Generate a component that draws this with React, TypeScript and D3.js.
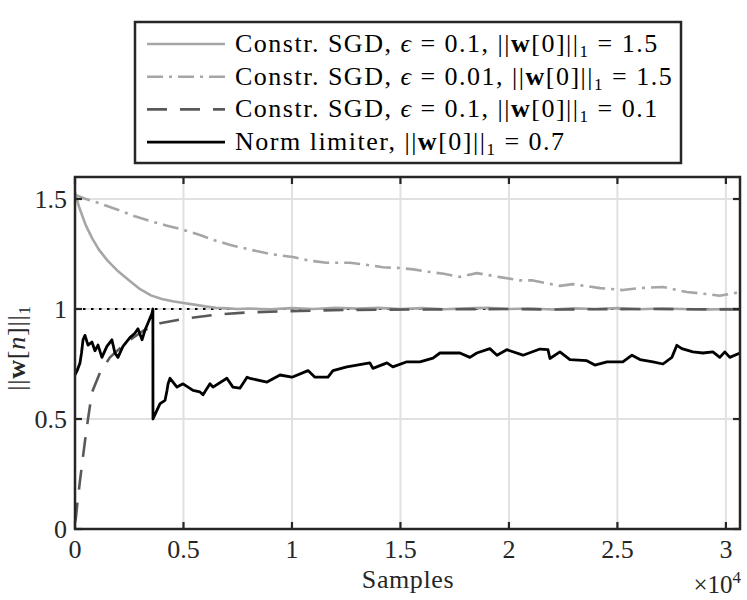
import * as React from "react";
import * as d3 from "d3";
import { useEffect, useRef } from "react";

// readings from the reference (samples, ||w[n]||_1)
const sgdFastX = [0, 200, 500, 800, 1100, 1500, 2000, 2500, 3000, 3500, 4000, 4500, 5000, 5500, 6000, 6500, 7000, 7500, 8000, 9000, 10000, 11000, 12000, 13000, 14000, 15000, 16000, 17000, 18000, 19000, 20000, 21000, 22000, 23000, 24000, 25000, 26000, 27000, 28000, 29000, 30000, 30650];
const sgdFastY = [1.53, 1.46, 1.38, 1.32, 1.27, 1.22, 1.17, 1.13, 1.09, 1.062, 1.045, 1.035, 1.027, 1.02, 1.012, 1.006, 1.003, 1.0, 1.002, 0.999, 1.004, 1.0, 1.006, 1.002, 1.005, 1.0, 1.004, 0.999, 1.003, 1.006, 1.0, 1.002, 0.998, 1.003, 1.0, 1.004, 0.999, 1.002, 1.0, 0.997, 1.0, 1.0];

const sgdSlowX = [0, 500, 1150, 2000, 2800, 3456, 4200, 4977, 5760, 6500, 7200, 8065, 9000, 10050, 10800, 11600, 12670, 13500, 14200, 14980, 15600, 16220, 17000, 17740, 18520, 19590, 20500, 21100, 22350, 22950, 24200, 25250, 26040, 27100, 28200, 29120, 29720, 30650];
const sgdSlowY = [1.52, 1.5, 1.48, 1.45, 1.42, 1.4, 1.38, 1.36, 1.336, 1.31, 1.29, 1.27, 1.25, 1.236, 1.22, 1.21, 1.21, 1.2, 1.19, 1.186, 1.18, 1.17, 1.16, 1.146, 1.163, 1.145, 1.13, 1.13, 1.105, 1.113, 1.095, 1.086, 1.095, 1.1, 1.077, 1.068, 1.06, 1.077];

const sgdLowX = [0, 40, 90, 230, 460, 600, 780, 1150, 1610, 2400, 3130, 3920, 4980, 6540, 8065, 9900, 11900, 14000, 16000, 18000, 20000, 22000, 24000, 26000, 28000, 30650];
const sgdLowY = [0.03, 0.05, 0.1, 0.22, 0.4, 0.5, 0.62, 0.71, 0.78, 0.85, 0.9, 0.935, 0.955, 0.975, 0.985, 0.99, 0.995, 0.997, 0.998, 0.999, 1.0, 0.998, 0.999, 1.0, 0.999, 0.998];

const limiterX = [0, 100, 230, 300, 370, 460, 600, 780, 920, 1060, 1240, 1470, 1700, 1840, 1980, 2210, 2530, 2760, 2900, 3090, 3230, 3360, 3550, 3590, 3594, 3780, 3920, 4150, 4240, 4290, 4380, 4700, 4980, 5440, 5760, 5900, 6220, 6360, 7000, 7280, 7600, 7930, 8060, 8850, 9450, 10000, 10740, 11060, 11660, 11890, 12530, 13590, 13730, 14380, 14650, 15300, 15900, 16500, 16820, 17740, 18200, 18520, 19120, 19450, 19900, 20650, 21430, 21800, 21890, 22350, 22810, 23590, 23960, 24520, 25250, 25670, 26040, 26640, 27100, 27510, 27740, 27970, 28480, 28940, 29400, 29720, 29950, 30180, 30650];
const limiterY = [0.7, 0.72, 0.755, 0.8, 0.86, 0.88, 0.836, 0.85, 0.81, 0.836, 0.78, 0.83, 0.86, 0.8, 0.78, 0.83, 0.87, 0.89, 0.91, 0.86, 0.905, 0.935, 0.98, 1.0, 0.5, 0.54, 0.57, 0.585, 0.63, 0.66, 0.685, 0.645, 0.66, 0.63, 0.623, 0.61, 0.66, 0.645, 0.685, 0.645, 0.64, 0.69, 0.685, 0.668, 0.7, 0.69, 0.72, 0.69, 0.69, 0.72, 0.737, 0.755, 0.73, 0.755, 0.737, 0.76, 0.76, 0.777, 0.8, 0.8, 0.78, 0.8, 0.82, 0.79, 0.815, 0.79, 0.818, 0.815, 0.775, 0.805, 0.77, 0.765, 0.745, 0.76, 0.76, 0.79, 0.77, 0.76, 0.75, 0.78, 0.835, 0.82, 0.805, 0.8, 0.805, 0.78, 0.805, 0.78, 0.8];

const xTicks = [0, 5000, 10000, 15000, 20000, 25000, 30000];
const xTickLabels = ["0", "0.5", "1", "1.5", "2", "2.5", "3"];
const yTicks = [0, 0.5, 1, 1.5];
const yTickLabels = ["0", "0.5", "1", "1.5"];

const FONT = "'Liberation Serif', 'DejaVu Serif', serif";
const AXIS = "#262626";

const series = [
  { x: sgdFastX, y: sgdFastY, color: "#a6a6a6", dash: "", width: 2.6 },
  { x: sgdSlowX, y: sgdSlowY, color: "#a6a6a6", dash: "16 6 3 6", width: 2.6 },
  { x: sgdLowX, y: sgdLowY, color: "#595959", dash: "20 13", width: 2.6 },
  { x: limiterX, y: limiterY, color: "#000000", dash: "", width: 2.8 },
];

const App = () => {
  const svgRef = useRef(null);

  useEffect(() => {
    document.body.style.margin = "0";
    const svg = d3.select(svgRef.current);
    svg.selectAll("*").remove();

    const left = 75, right = 740, top = 177, bottom = 529;
    const x = d3.scaleLinear().domain([0, 30650]).range([left, right]);
    const y = d3.scaleLinear().domain([0, 1.6]).range([bottom, top]);

    const plot = svg.append("g");

    // grid
    plot.selectAll(".gx").data(xTicks).join("line")
      .attr("x1", (d) => x(d)).attr("x2", (d) => x(d))
      .attr("y1", top).attr("y2", bottom)
      .attr("stroke", "#e1e1e1").attr("stroke-width", 2);
    plot.selectAll(".gy").data(yTicks).join("line")
      .attr("x1", left).attr("x2", right)
      .attr("y1", (d) => y(d)).attr("y2", (d) => y(d))
      .attr("stroke", "#e1e1e1").attr("stroke-width", 2);

    // reference line at 1
    plot.append("line")
      .attr("x1", x(0)).attr("x2", x(30650))
      .attr("y1", y(1)).attr("y2", y(1))
      .attr("stroke", "#000").attr("stroke-width", 2.2)
      .attr("stroke-dasharray", "2.5 5.5");

    series.forEach((s) => {
      const pts = s.x.map((v, i) => [x(v), y(s.y[i])] as [number, number]);
      plot.append("path")
        .attr("d", d3.line()(pts))
        .attr("fill", "none")
        .attr("stroke", s.color)
        .attr("stroke-width", s.width)
        .attr("stroke-dasharray", s.dash || null)
        .attr("stroke-linejoin", "round");
    });

    // box + inward ticks
    const tl = 7;
    const ax = svg.append("g").attr("stroke", AXIS).attr("stroke-width", 2.2);
    xTicks.forEach((t) => {
      ax.append("line").attr("x1", x(t)).attr("x2", x(t)).attr("y1", bottom).attr("y2", bottom - tl);
      ax.append("line").attr("x1", x(t)).attr("x2", x(t)).attr("y1", top).attr("y2", top + tl);
    });
    yTicks.forEach((t) => {
      ax.append("line").attr("x1", left).attr("x2", left + tl).attr("y1", y(t)).attr("y2", y(t));
      ax.append("line").attr("x1", right).attr("x2", right - tl).attr("y1", y(t)).attr("y2", y(t));
    });
    ax.append("rect").attr("x", left).attr("y", top).attr("width", right - left).attr("height", bottom - top)
      .attr("fill", "none").attr("stroke-width", 2.5);

    // tick labels
    svg.selectAll(".xl").data(xTicks).join("text")
      .attr("x", (d) => x(d)).attr("y", 558)
      .attr("text-anchor", "middle").attr("font-family", FONT).attr("font-size", 26).attr("fill", AXIS)
      .text((_, i) => xTickLabels[i]);
    svg.selectAll(".yl").data(yTicks).join("text")
      .attr("x", 67).attr("y", (d) => y(d) + 9)
      .attr("text-anchor", "end").attr("font-family", FONT).attr("font-size", 26).attr("fill", AXIS)
      .text((_, i) => yTickLabels[i]);

    svg.append("text").attr("x", 408).attr("y", 588).attr("text-anchor", "middle")
      .attr("font-family", FONT).attr("font-size", 26).attr("letter-spacing", 0.6).attr("fill", AXIS).text("Samples");

    const mult = svg.append("text").attr("x", 741).attr("y", 593).attr("text-anchor", "end")
      .attr("font-family", FONT).attr("font-size", 25).attr("fill", AXIS);
    mult.append("tspan").text("×10");
    mult.append("tspan").attr("font-size", 17).attr("dy", -10).text("4");

    // y label
    const yl = svg.append("text").attr("transform", "translate(25,348) rotate(-90)")
      .attr("text-anchor", "middle").attr("font-family", FONT).attr("font-size", 26)
      .attr("letter-spacing", 0.8).attr("fill", AXIS);
    yl.append("tspan").text("||");
    yl.append("tspan").attr("font-weight", "bold").text("w");
    yl.append("tspan").text("[");
    yl.append("tspan").attr("font-style", "italic").text("n");
    yl.append("tspan").text("]||");
    yl.append("tspan").attr("font-size", 17).attr("dy", 5).text("1");

    // legend
    const lg = svg.append("g");
    lg.append("rect").attr("x", 135).attr("y", 22).attr("width", 546).attr("height", 141)
      .attr("fill", "#fff").attr("stroke", AXIS).attr("stroke-width", 2.5);
    const entries = [
      { eps: "0.1", w0: "1.5", pre: "Constr. SGD, " },
      { eps: "0.01", w0: "1.5", pre: "Constr. SGD, " },
      { eps: "0.1", w0: "0.1", pre: "Constr. SGD, " },
      { eps: null, w0: "0.7", pre: "Norm limiter, " },
    ];
    entries.forEach((e, i) => {
      const cy = 44 + i * 32.7;
      const s = series[i];
      lg.append("line").attr("x1", 147).attr("x2", 225).attr("y1", cy).attr("y2", cy)
        .attr("stroke", s.color).attr("stroke-width", s.width).attr("stroke-dasharray", s.dash || null);
      const t = lg.append("text").attr("x", 235).attr("y", cy + 8)
        .attr("font-family", FONT).attr("font-size", 26).attr("letter-spacing", 1.5).attr("fill", "#000");
      t.append("tspan").text(e.pre);
      if (e.eps) {
        t.append("tspan").attr("font-style", "italic").text("ϵ");
        t.append("tspan").text(` = ${e.eps}, ||`);
      } else {
        t.append("tspan").text("||");
      }
      t.append("tspan").attr("font-weight", "bold").text("w");
      t.append("tspan").text("[0]||");
      t.append("tspan").attr("font-size", 17).attr("dy", 5).text("1");
      t.append("tspan").attr("dy", -5).text(` = ${e.w0}`);
    });
  }, []);

  return <svg ref={svgRef} width={747} height={600} style={{ display: "block" }}></svg>;
};

export default App;
